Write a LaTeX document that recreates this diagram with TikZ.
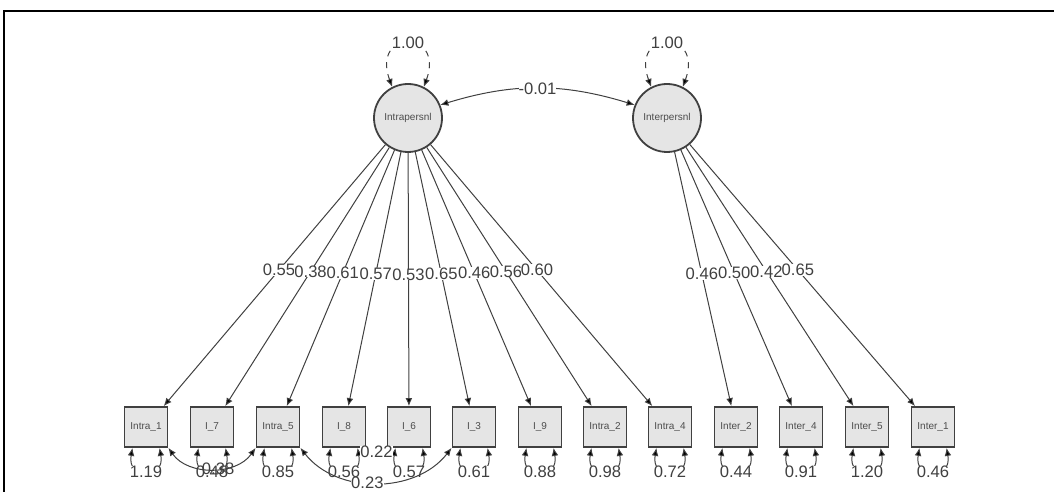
\documentclass[tikz,border=0pt]{standalone}
\usepackage{fontspec}
\setmainfont{Liberation Sans}
\usepackage{tikz}
\usetikzlibrary{arrows.meta}

\begin{document}
\begin{tikzpicture}[x=0.5pt, y=0.5pt,
    latent/.style={draw=black!75, circle, line width=0.9pt, fill=black!10, minimum size=34pt,
                   inner sep=0pt, font=\fontsize{5}{6}\selectfont, text=black!70},
    manifest/.style={draw=black!75, rectangle, line width=0.9pt, fill=black!10, minimum width=21.5pt,
                     minimum height=20pt, inner sep=0pt, font=\fontsize{5}{6}\selectfont, text=black!70},
    loading/.style={-{Latex[length=4pt, width=3.4pt, fill=black]}, line width=0.5pt, draw=black!75},
    twoway/.style={{Latex[length=4pt, width=3.4pt, fill=black]}-{Latex[length=4pt, width=3.4pt, fill=black]},
                   line width=0.5pt, draw=black!75},
    est/.style={fill=white, inner sep=0pt, font=\fontsize{8.3}{10}\selectfont, text=black!75},
    bare/.style={inner sep=0pt, font=\fontsize{8.3}{10}\selectfont, text=black!75}
]
\useasboundingbox (0,0) rectangle (1054,492);

%% Frame
\draw[line width=1.2pt] (4,0) -- (4,481) -- (1054,481);

%% Latent factors
\node[latent] (intra) at (408,374) {Intrapersnl};
\node[latent] (inter) at (667,374) {Interpersnl};

%% Indicators
\node[manifest] (i1) at (146,65) {Intra\_1};
\node[manifest] (i7) at (212,65) {I\_7};
\node[manifest] (i5) at (278,65) {Intra\_5};
\node[manifest] (i8) at (344,65) {I\_8};
\node[manifest] (i6) at (409,65) {I\_6};
\node[manifest] (i3) at (474,65) {I\_3};
\node[manifest] (i9) at (540,65) {I\_9};
\node[manifest] (i2) at (605,65) {Intra\_2};
\node[manifest] (i4) at (670,65) {Intra\_4};
\node[manifest] (e2) at (736,65) {Inter\_2};
\node[manifest] (e4) at (801,65) {Inter\_4};
\node[manifest] (e5) at (867,65) {Inter\_5};
\node[manifest] (e1) at (933,65) {Inter\_1};

%% Factor variances and covariance
\draw[twoway, dashed] (intra.117) .. controls +(110:62) and +(70:62) .. node[est]{1.00} (intra.63);
\draw[twoway, dashed] (inter.117) .. controls +(110:62) and +(70:62) .. node[est]{1.00} (inter.63);
\draw[twoway] (intra.22) to[bend left=17] node[est]{-0.01} (inter.158);

%% Loadings
\draw[loading] (intra) -- node[est, pos=0.48]{0.55} (i1);
\draw[loading] (intra) -- node[est, pos=0.48]{0.38} (i7);
\draw[loading] (intra) -- node[est, pos=0.48]{0.61} (i5);
\draw[loading] (intra) -- node[est, pos=0.48]{0.57} (i8);
\draw[loading] (intra) -- node[est, pos=0.48]{0.53} (i6);
\draw[loading] (intra) -- node[est, pos=0.48]{0.65} (i3);
\draw[loading] (intra) -- node[est, pos=0.48]{0.46} (i9);
\draw[loading] (intra) -- node[est, pos=0.48]{0.56} (i2);
\draw[loading] (intra) -- node[est, pos=0.48]{0.60} (i4);
\draw[loading] (inter) -- node[est, pos=0.48]{0.46} (e2);
\draw[loading] (inter) -- node[est, pos=0.48]{0.50} (e4);
\draw[loading] (inter) -- node[est, pos=0.48]{0.42} (e5);
\draw[loading] (inter) -- node[est, pos=0.48]{0.65} (e1);

%% Residual variances
\draw[twoway] (i1.237) .. controls +(-100:33) and +(-80:33) .. node[est]{1.19} (i1.303);
\draw[twoway] (i7.237) .. controls +(-100:33) and +(-80:33) .. node[est]{0.48} (i7.303);
\draw[twoway] (i5.237) .. controls +(-100:33) and +(-80:33) .. node[est]{0.85} (i5.303);
\draw[twoway] (i8.237) .. controls +(-100:33) and +(-80:33) .. node[est]{0.56} (i8.303);
\draw[twoway] (i6.237) .. controls +(-100:33) and +(-80:33) .. node[est]{0.57} (i6.303);
\draw[twoway] (i3.237) .. controls +(-100:33) and +(-80:33) .. node[est]{0.61} (i3.303);
\draw[twoway] (i9.237) .. controls +(-100:33) and +(-80:33) .. node[est]{0.88} (i9.303);
\draw[twoway] (i2.237) .. controls +(-100:33) and +(-80:33) .. node[est]{0.98} (i2.303);
\draw[twoway] (i4.237) .. controls +(-100:33) and +(-80:33) .. node[est]{0.72} (i4.303);
\draw[twoway] (e2.237) .. controls +(-100:33) and +(-80:33) .. node[est]{0.44} (e2.303);
\draw[twoway] (e4.237) .. controls +(-100:33) and +(-80:33) .. node[est]{0.91} (e4.303);
\draw[twoway] (e5.237) .. controls +(-100:33) and +(-80:33) .. node[est]{1.20} (e5.303);
\draw[twoway] (e1.237) .. controls +(-100:33) and +(-80:33) .. node[est]{0.46} (e1.303);

%% Residual covariances
\draw[twoway] (i1.south east) to[bend right=55] node[bare, pos=0.56]{0.38} (i5.south west);
\draw[twoway] (i5.south east) to[bend right=52] node[est, pos=0.45]{0.23} (i3.south west);
\draw[twoway] (i8.south east) to[bend right=40] node[est]{0.22} (i6.south west);

\end{tikzpicture}
\end{document}
